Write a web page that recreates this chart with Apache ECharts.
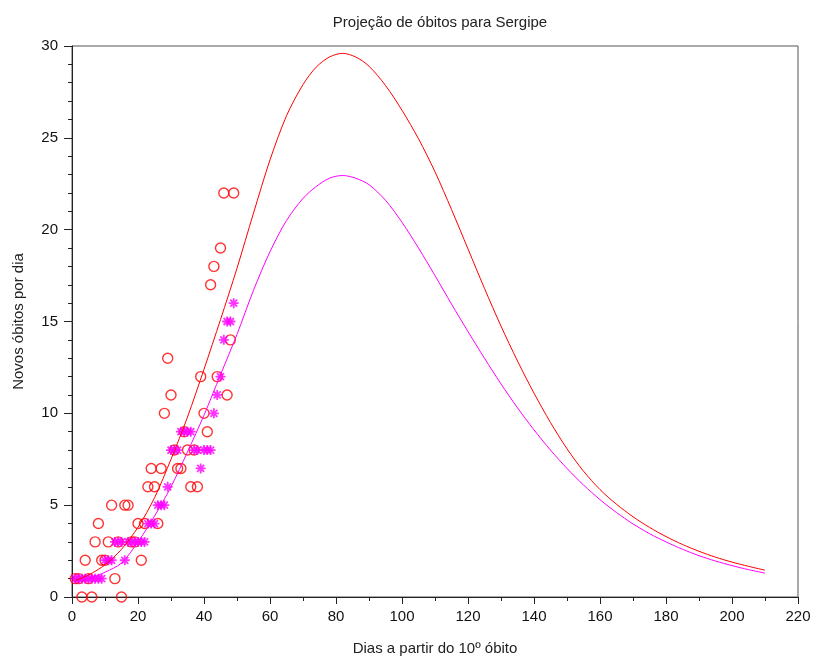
<!DOCTYPE html>
<html>
<head>
<meta charset="utf-8">
<script src="https://cdn.jsdelivr.net/npm/echarts@6/dist/echarts.min.js"></script>
<style>html,body{margin:0;padding:0;background:#fff}#c{width:813px;height:657px}</style>
</head>
<body>
<div id="c"></div>
<script>
// Observed daily deaths (red circles)
const obsDays = [1,2,3,4,5,6,7,8,9,10,11,12,13,14,15,16,17,18,19,20,21,22,23,24,25,26,27,28,29,30,31,32,33,34,35,36,37,38,39,40,41,42,43,44,45,46,47,48,49];
const obsValues = [1,1,0,2,1,0,3,4,2,2,3,5,1,3,0,5,5,3,3,4,2,4,6,7,6,4,7,10,13,11,8,7,7,9,8,6,8,6,12,10,9,17,18,12,19,22,11,14,22];
// Second series (magenta asterisks)
const astValues = [1,1,1,1,1,1,1,1,1,2,2,2,3,3,3,2,3,3,3,3,3,3,4,4,4,5,5,5,6,8,8,8,9,9,9,9,8,8,7,8,8,8,10,11,12,14,15,15,16];
// Projection curves
const curveDays = [1,5,10,15,20,25,30,35,40,45,50,55,60,65,70,74,78,82,86,90,95,100,105,110,115,120,125,130,135,140,145,150,155,160,165,170,175,180,185,190,195,200,205,210];
const redCurve = [0.9,1.2,1.75,2.6,3.8,5.4,7.5,9.8,12.4,15.1,17.9,20.9,23.8,26.2,27.9,28.85,29.4,29.6,29.4,28.9,27.85,26.5,24.95,23.15,21.1,18.95,16.8,14.75,12.85,11.1,9.5,8.07,6.85,5.85,5.05,4.37,3.79,3.29,2.86,2.49,2.17,1.9,1.67,1.46];
const magentaCurve = [0.85,1.0,1.35,1.85,3.0,4.4,6.0,7.9,9.9,12.1,14.3,16.7,18.8,20.5,21.7,22.35,22.8,22.95,22.8,22.45,21.6,20.4,19.0,17.5,15.95,14.45,13.0,11.6,10.3,9.1,8.0,7.0,6.1,5.3,4.6,3.98,3.45,3.0,2.6,2.25,1.96,1.71,1.49,1.3];
// Axis ticks
const xTicks = {min:0, max:220, interval:20};
const yTicks = {min:0, max:30, interval:5};

const pair = (xs, ys) => xs.map((x, i) => [x, ys[i]]);
const FONT = 'Liberation Sans';
const asterisk = 'path://M0,-5L0,5M-5,0L5,0M-3.5,-3.5L3.5,3.5M-3.5,3.5L3.5,-3.5';

const chart = echarts.init(document.getElementById('c'), null, {renderer:'canvas'});
chart.setOption({
  animation: false,
  backgroundColor: '#fff',
  title: {
    text: 'Projeção de óbitos para Sergipe',
    left: 435, top: 10, textAlign: 'center',
    textStyle: {fontFamily: FONT, fontSize: 15, fontWeight: 'normal', color: '#222'}
  },
  grid: {left: 72, right: 15, top: 46, bottom: 60, show: true, borderColor: '#555', borderWidth: 1,
         backgroundColor: 'transparent', containLabel: false, outerBoundsMode: 'none'},
  xAxis: {
    type: 'value', min: xTicks.min, max: xTicks.max, interval: xTicks.interval,
    name: 'Dias a partir do 10º óbito', nameLocation: 'middle', nameGap: 44,
    nameTextStyle: {fontFamily: FONT, fontSize: 15, color: '#222'},
    axisLine: {show: true, onZero: false, lineStyle: {color: '#222', width: 1}},
    axisTick: {show: true, inside: false, length: 7, lineStyle: {color: '#222'}},
    minorTick: {show: true, splitNumber: 2, length: 4, lineStyle: {color: '#222'}},
    splitLine: {show: false},
    axisLabel: {fontFamily: FONT, fontSize: 15, color: '#111', margin: 12}
  },
  yAxis: {
    type: 'value', min: yTicks.min, max: yTicks.max, interval: yTicks.interval,
    name: 'Novos óbitos por dia', nameLocation: 'middle', nameGap: 46, nameRotate: 90,
    nameTextStyle: {fontFamily: FONT, fontSize: 15, color: '#222'},
    axisLine: {show: true, onZero: false, lineStyle: {color: '#222', width: 1}},
    axisTick: {show: true, inside: false, length: 8, lineStyle: {color: '#222'}},
    minorTick: {show: true, splitNumber: 5, length: 4, lineStyle: {color: '#222'}},
    splitLine: {show: false},
    axisLabel: {fontFamily: FONT, fontSize: 15, color: '#111', margin: 14}
  },
  series: [
    {
      type: 'scatter', data: pair(obsDays, obsValues),
      symbol: 'circle', symbolSize: 10,
      itemStyle: {color: 'rgba(0,0,0,0)', borderColor: '#ff0000', borderWidth: 1.4},
      z: 3
    },
    {
      type: 'scatter', data: pair(obsDays, astValues),
      symbol: asterisk, symbolSize: 10,
      itemStyle: {color: '#ff00ff', borderColor: '#ff00ff', borderWidth: 1.8},
      z: 4
    },
    {
      type: 'line', data: pair(curveDays, redCurve), smooth: 0.3,
      showSymbol: false, symbol: 'none',
      lineStyle: {color: '#ff0000', width: 1}, z: 5
    },
    {
      type: 'line', data: pair(curveDays, magentaCurve), smooth: 0.3,
      showSymbol: false, symbol: 'none',
      lineStyle: {color: '#ff00ff', width: 1}, z: 5
    }
  ]
});
</script>
</body>
</html>
